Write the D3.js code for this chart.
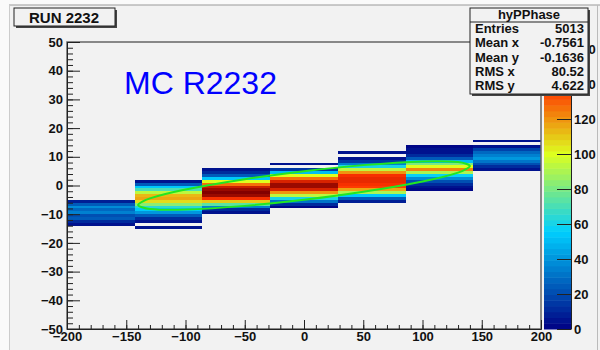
<!DOCTYPE html>
<html>
<head>
<meta charset="utf-8">
<script src="https://cdn.jsdelivr.net/npm/d3@7"></script>
<style>
  body { margin: 0; background: #fff; }
  svg { display: block; font-family: "Liberation Sans", Arial, sans-serif; }
  .ax text { font-weight: bold; font-size: 13px; fill: #111; }
  .ax path, .ax line { stroke: #222; }
</style>
</head>
<body>
<div id="chart"></div>
<script>
// histogram: 7 x-bins from -200 to 200, y-bins of 1 unit
const xMin = -200, xMax = 200, xBins = 7;
const yBinWidth = 1;
// lowest y bin (lower edge) per column, then counts from bottom to top
const colStart = [-14, -15, -10, -8, -6, -2, 5];
const colCounts = [
  [5, 12, 25, 20, 35, 28, 38, 25, 8],
  [4, 0, 5, 10, 25, 40, 55, 65, 85, 108, 118, 112, 95, 72, 55, 25, 6],
  [5, 12, 35, 75, 110, 140, 158, 164, 160, 148, 125, 100, 55, 25, 12, 5],
  [3, 10, 30, 60, 95, 120, 145, 160, 160, 145, 125, 100, 50, 15, 0, 4],
  [8, 25, 55, 90, 118, 135, 140, 142, 142, 140, 120, 95, 60, 35, 15, 5, 0, 4],
  [3, 6, 12, 22, 38, 58, 90, 122, 100, 80, 50, 25, 12, 6, 4, 3],
  [4, 10, 20, 32, 40, 35, 28, 18, 5, 0, 4]
];
const zMax = 164;
const zTicks = [0, 20, 40, 60, 80, 100, 120, 140, 160];

// green cut contour
const cutX = [-140, -130, -100, -50, 0, 50, 100, 130, 140, 130, 100, 50, 0, -50, -100, -130];
const cutY = [-6.8, -4.5, -1.4, 2.2, 5.0, 7.1, 8.4, 8.2, 6.8, 4.5, 1.4, -2.2, -5.0, -7.1, -8.4, -8.2];

const statLabels = ["Entries", "Mean x", "Mean y", "RMS x", "RMS y"];
const statValues = ["5013", "-0.7561", "-0.1636", "80.52", "4.622"];

const W = 600, H = 350;
const svg = d3.select("#chart").append("svg").attr("width", W).attr("height", H);

// canvas
svg.append("rect").attr("width", W).attr("height", H).attr("fill", "#fafafa");
svg.append("rect").attr("x", 9).attr("y", 5).attr("width", W - 9).attr("height", H - 5).attr("fill", "#f2f2f2");
svg.append("line").attr("x1", 9).attr("x2", W).attr("y1", 5).attr("y2", 5).attr("stroke", "#999").attr("stroke-width", 1.2);
svg.append("line").attr("x1", 9.5).attr("x2", 9.5).attr("y1", 5).attr("y2", H).attr("stroke", "#ccc");
svg.append("line").attr("x1", 597.5).attr("x2", 597.5).attr("y1", 5).attr("y2", H).attr("stroke", "#bbb");

const x = d3.scaleLinear().domain([xMin, xMax]).range([67, 541]);
const y = d3.scaleLinear().domain([-50, 50]).range([329, 42]);

const stops = [0, 0.34, 0.61, 0.84, 1];
const grad = d3.scaleLinear()
  .domain(stops.map(s => s * zMax))
  .range(["#000083", "#00cfff", "#ddff1f", "#ff3300", "#830000"])
  .clamp(true);
const nCol = 50;
const color = v => grad((Math.floor(v / zMax * nCol) + 0.5) / nCol * zMax);

// cells
const cells = [];
const dx = (xMax - xMin) / xBins;
colCounts.forEach((arr, i) => {
  arr.forEach((v, j) => {
    if (v > 0) cells.push({ x0: xMin + i * dx, x1: xMin + (i + 1) * dx, y0: colStart[i] + j * yBinWidth, v: v });
  });
});
svg.append("g").selectAll("rect").data(cells).enter().append("rect")
  .attr("x", d => x(d.x0))
  .attr("width", d => x(d.x1) - x(d.x0))
  .attr("y", d => y(d.y0 + yBinWidth))
  .attr("height", d => y(d.y0) - y(d.y0 + yBinWidth))
  .attr("fill", d => color(d.v))
  .attr("shape-rendering", "crispEdges");

// cut
const cutPts = cutX.map((v, i) => [v, cutY[i]]);
svg.append("path")
  .attr("d", d3.line().x(d => x(d[0])).y(d => y(d[1])).curve(d3.curveCardinalClosed.tension(0.3))(cutPts))
  .attr("fill", "none").attr("stroke", "#22e622").attr("stroke-width", 2);

// frame
svg.append("rect").attr("x", 67).attr("y", 42).attr("width", 474).attr("height", 287)
  .attr("fill", "none").attr("stroke", "#666").attr("stroke-width", 1.5);

// y axis
svg.append("g").attr("class", "ax").attr("transform", "translate(67,0)")
  .call(d3.axisLeft(y).tickValues(d3.range(-50, 51, 2)).tickSizeInner(-6).tickSizeOuter(0).tickFormat(""));
svg.append("g").attr("class", "ax").attr("transform", "translate(67,0)")
  .call(d3.axisLeft(y).tickValues(d3.range(-50, 51, 10)).tickSizeInner(-13).tickSizeOuter(0).tickPadding(4));

// x axis
svg.append("g").attr("class", "ax").attr("transform", "translate(0,329)")
  .call(d3.axisBottom(x).tickValues(d3.range(-200, 201, 10)).tickSizeInner(-4).tickSizeOuter(0).tickFormat(""));
svg.append("g").attr("class", "ax").attr("transform", "translate(0,329)")
  .call(d3.axisBottom(x).tickValues(d3.range(-200, 201, 50)).tickSizeInner(-9).tickSizeOuter(0).tickPadding(3));

// palette
const zy = d3.scaleLinear().domain([0, zMax]).range([329, 42]);
svg.append("g").selectAll("rect").data(d3.range(nCol)).enter().append("rect")
  .attr("x", 544).attr("width", 27)
  .attr("y", k => zy((k + 1) * zMax / nCol))
  .attr("height", k => zy(k * zMax / nCol) - zy((k + 1) * zMax / nCol) + 0.5)
  .attr("fill", k => grad((k + 0.5) * zMax / nCol));
svg.append("g").attr("class", "ax").attr("transform", "translate(571,0)")
  .call(d3.axisRight(zy).tickValues(zTicks).tickSizeInner(-14).tickSizeOuter(0).tickPadding(3));

// run label
svg.append("rect").attr("x", 16).attr("y", 10).attr("width", 101).attr("height", 18).attr("fill", "#444");
svg.append("rect").attr("x", 14).attr("y", 8).attr("width", 101).attr("height", 18)
  .attr("fill", "#f2f2f2").attr("stroke", "#222").attr("stroke-width", 1);
svg.append("text").attr("x", 64).attr("y", 22.5).attr("text-anchor", "middle")
  .attr("font-weight", "bold").attr("font-size", 15).attr("fill", "#111").text("RUN 2232");

svg.append("text").attr("x", 124).attr("y", 94).attr("font-size", 32).attr("fill", "#0000ff").text("MC R2232");

// stats box
const sb = { x: 470, y: 8, w: 118, h: 86 };
svg.append("rect").attr("x", sb.x + 2).attr("y", sb.y + 2).attr("width", sb.w).attr("height", sb.h).attr("fill", "#444");
svg.append("rect").attr("x", sb.x).attr("y", sb.y).attr("width", sb.w).attr("height", sb.h)
  .attr("fill", "#f2f2f2").attr("stroke", "#222").attr("stroke-width", 1);
svg.append("line").attr("x1", sb.x).attr("x2", sb.x + sb.w).attr("y1", 22).attr("y2", 22).attr("stroke", "#222");
svg.append("text").attr("x", sb.x + sb.w / 2).attr("y", 19).attr("text-anchor", "middle")
  .attr("font-weight", "bold").attr("font-size", 13).attr("fill", "#111").text("hyPPhase");
const rowY = d3.scalePoint().domain(statLabels).range([33, 90]);
svg.append("g").selectAll("text").data(statLabels).enter().append("text")
  .attr("x", sb.x + 5).attr("y", d => rowY(d)).attr("font-weight", "bold").attr("font-size", 13)
  .attr("fill", "#111").text(d => d);
svg.append("g").selectAll("text").data(statValues).enter().append("text")
  .attr("x", sb.x + sb.w - 4).attr("y", (d, i) => rowY(statLabels[i])).attr("text-anchor", "end")
  .attr("font-weight", "bold").attr("font-size", 13).attr("fill", "#111").text(d => d);
</script>
</body>
</html>
